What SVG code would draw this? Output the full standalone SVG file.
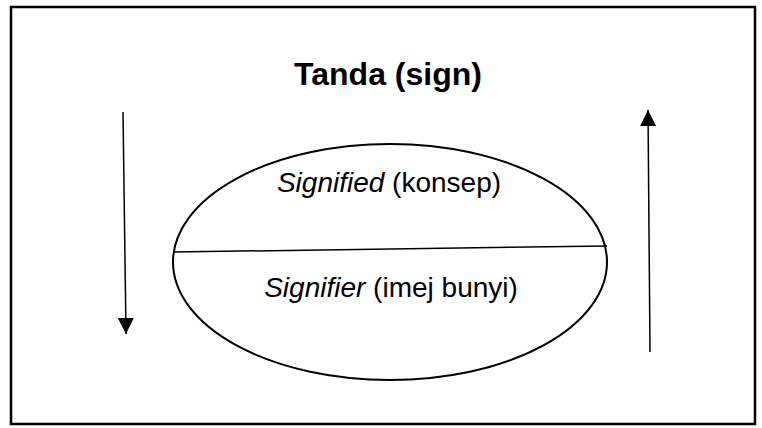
<svg xmlns="http://www.w3.org/2000/svg" width="762" height="428" viewBox="0 0 762 428">
<style>
.t{font-family:"Liberation Sans",Arial,sans-serif;fill:#000}
.ln{stroke:#000;stroke-width:1.5;fill:none}
</style>
<defs>
<marker id="ah" viewBox="0 0 16 16" refX="16" refY="8" markerWidth="16" markerHeight="16" markerUnits="userSpaceOnUse" orient="auto">
<path d="M0,0 L16,8 L0,16 Z" fill="#000"/>
</marker>
</defs>
<rect width="762" height="428" fill="#fff"/>
<rect x="11" y="7" width="744" height="417" fill="none" stroke="#000" stroke-width="2.5"/>
<g id="title"><text class="t" x="388" y="85" font-size="32" font-weight="bold" text-anchor="middle">Tanda (sign)</text></g>
<g id="sign">
<ellipse cx="390" cy="262" rx="217" ry="118" fill="none" stroke="#000" stroke-width="2"/>
<line class="ln" x1="173" y1="252" x2="607" y2="246"/>
</g>
<g id="signified"><text class="t" x="389" y="192" font-size="28" text-anchor="middle"><tspan font-style="italic">Signified</tspan> (konsep)</text></g>
<g id="signifier"><text class="t" x="391" y="297" font-size="28" text-anchor="middle"><tspan font-style="italic">Signifier</tspan> (imej bunyi)</text></g>
<g id="connectors">
<line class="ln" x1="123" y1="112" x2="126" y2="334" marker-end="url(#ah)"/>
<line class="ln" x1="650" y1="352" x2="648" y2="110" marker-end="url(#ah)"/>
</g>
</svg>
